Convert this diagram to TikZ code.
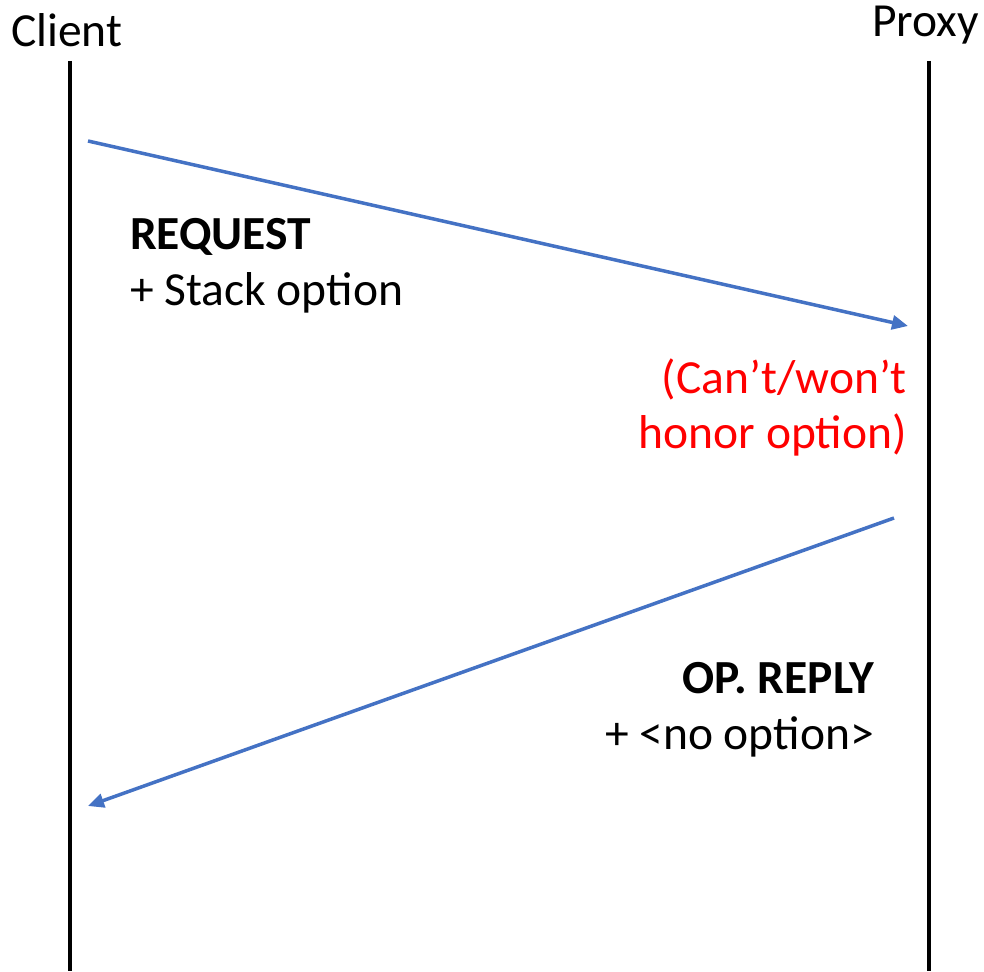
\documentclass[tikz,border=0pt]{standalone}
\usepackage{fontspec}
\setmainfont{Carlito}
\usetikzlibrary{arrows.meta}
\definecolor{msgblue}{RGB}{68,114,196}
\tikzset{
  lifeline/.style={line width=4pt, black},
  msg/.style={line width=3.5pt, msgblue, -{Triangle[length=16pt,width=14pt]}},
  lbl/.style={inner sep=0pt, font=\fontsize{47.5}{57}\selectfont},
  note/.style={lbl, text=red},
}
\begin{document}
\begin{tikzpicture}[x=1pt,y=-1pt]
\useasboundingbox (0,0) rectangle (984,971);
% participants
\node[lbl, anchor=base west] (client) at (11,47) {Client};
\node[lbl, anchor=base east] (proxy) at (979,37) {Proxy};
\coordinate (ctop) at (69.5,61);
\coordinate (cbot) at (69.5,971);
\coordinate (ptop) at (928.5,61);
\coordinate (pbot) at (928.5,971);
\draw[lifeline] (ctop) -- (cbot);
\draw[lifeline] (ptop) -- (pbot);
% messages
\coordinate (reqS) at (88,141);
\coordinate (reqE) at (908,326);
\coordinate (repS) at (894,518);
\coordinate (repE) at (88,806);
\draw[msg] (reqS) -- (reqE);
\draw[msg] (repS) -- (repE);
% labels
\node[lbl, anchor=base west] (req1) at (130,249) {\bfseries REQUEST};
\node[lbl, anchor=base west] (req2) at (130,305) {+ Stack option};
\node[note, anchor=base east] (n1) at (907,393) {(Can’t/won’t};
\node[note, anchor=base east] (n2) at (907,448) {honor option)};
\node[lbl, anchor=base east] (rep1) at (874,693) {\bfseries OP. REPLY};
\node[lbl, anchor=base east] (rep2) at (874,749) {+ <no option>};
\end{tikzpicture}
\end{document}
